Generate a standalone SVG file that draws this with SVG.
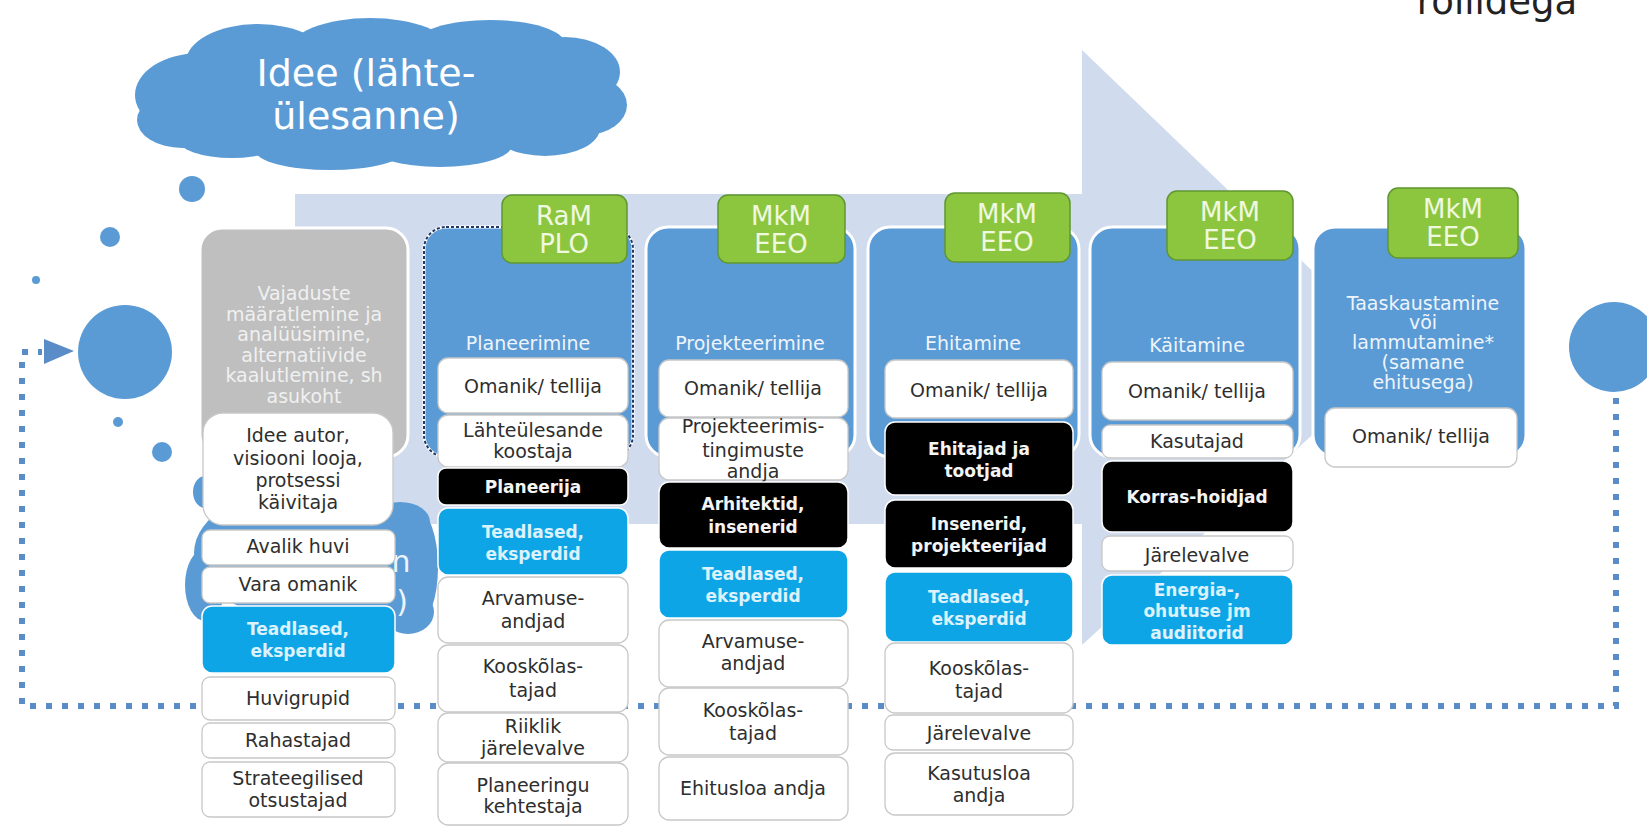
<svg xmlns="http://www.w3.org/2000/svg" width="1647" height="827" viewBox="0 0 1647 827">
<style>
text { font-family: "DejaVu Sans", Verdana, sans-serif; }
.col { fill:#5b9bd5; stroke:#fff; stroke-width:3; }
.grey { fill:#bfbfbf; stroke:#fff; stroke-width:3; }
.green { fill:#8cc63f; stroke:#5f9632; stroke-width:1.5; }
.gt { font-size:26px; fill:#f0f8e0; text-anchor:middle; }
.lbl { font-size:19px; fill:#eef4fb; text-anchor:middle; }
.glbl { font-size:19px; fill:#f0f0f0; text-anchor:middle; }
.wb { fill:#fff; stroke:#c8c8c8; stroke-width:1.3; }
.bb { fill:#000; stroke:#fff; stroke-width:1.5; }
.cb { fill:#0ea5e6; stroke:#fff; stroke-width:1.5; }
.wt { font-size:19px; fill:#2e2e2e; text-anchor:middle; }
.bt { font-size:17px; font-weight:bold; fill:#f4f4f4; text-anchor:middle; }
.ct { font-size:17px; font-weight:bold; fill:#dcf2fc; text-anchor:middle; }
.blob { fill:#5b9bd5; }
.conn { fill:none; stroke:#5a8dc8; stroke-width:6; stroke-dasharray:6 10; }
</style>
<rect width="1647" height="827" fill="#fff"/>

<g id="process-arrow">
  <polygon points="295,194 1082,194 1082,50 1400,355 1082,645 1082,524 295,524" fill="#d0dbee"/>
</g>

<g id="idea-cloud">
  <g class="blob">
    <ellipse cx="380" cy="95" rx="215" ry="60"/>
    <ellipse cx="200" cy="95" rx="65" ry="42"/>
    <ellipse cx="182" cy="120" rx="45" ry="28"/>
    <ellipse cx="258" cy="62" rx="72" ry="38"/>
    <ellipse cx="370" cy="50" rx="80" ry="32"/>
    <ellipse cx="490" cy="44" rx="75" ry="24"/>
    <ellipse cx="565" cy="72" rx="55" ry="35"/>
    <ellipse cx="585" cy="105" rx="42" ry="30"/>
    <ellipse cx="545" cy="128" rx="55" ry="28"/>
    <ellipse cx="440" cy="145" rx="72" ry="22"/>
    <ellipse cx="330" cy="150" rx="75" ry="20"/>
    <ellipse cx="232" cy="138" rx="55" ry="20"/>
  </g>
  <text x="366" y="86" font-size="38" fill="#fff" text-anchor="middle">Idee (lähte-</text>
  <text x="366" y="129" font-size="38" fill="#fff" text-anchor="middle">ülesanne)</text>
</g>

<g id="bubbles" class="blob">
  <circle cx="192" cy="189" r="13"/>
  <circle cx="110" cy="237" r="10"/>
  <circle cx="36" cy="280" r="4"/>
  <circle cx="118" cy="422" r="5"/>
  <circle cx="162" cy="452" r="10"/>
</g>

<g id="lower-cloud">
  <g class="blob">
    <ellipse cx="312" cy="553" rx="118" ry="68"/>
    <ellipse cx="205" cy="585" rx="20" ry="36"/>
    <ellipse cx="205" cy="492" rx="12" ry="16"/>
    <ellipse cx="418" cy="567" rx="20" ry="56"/>
    <ellipse cx="408" cy="612" rx="26" ry="22"/>
    <ellipse cx="400" cy="522" rx="30" ry="20"/>
  </g>
  <text x="401" y="572" font-size="30" fill="#eef4fb" text-anchor="middle">n</text>
  <text x="402" y="612" font-size="30" fill="#eef4fb" text-anchor="middle">)</text>
</g>

<g id="start-circle"><circle class="blob" cx="125" cy="352" r="47"/></g>
<g id="end-circle"><circle class="blob" cx="1614" cy="347" r="45"/></g>

<g id="connectors">
  <path class="conn" d="M1616,398 V706 H22 V352 H42"/>
  <polygon points="44,339 74,351 44,364" fill="#5a8dc8"/>
</g>

<g id="col1">
  <rect class="grey" x="200" y="228" width="208" height="229" rx="22"/>
  <text class="glbl" x="304" y="300">Vajaduste</text>
  <text class="glbl" x="304" y="320.5">määratlemine ja</text>
  <text class="glbl" x="304" y="341">analüüsimine,</text>
  <text class="glbl" x="304" y="361.5">alternatiivide</text>
  <text class="glbl" x="304" y="382">kaalutlemine, sh</text>
  <text class="glbl" x="304" y="402.5">asukoht</text>
  <rect class="wb" x="203" y="413" width="190" height="112" rx="20"/>
  <text class="wt" x="298" y="442">Idee autor,</text>
  <text class="wt" x="298" y="465">visiooni looja,</text>
  <text class="wt" x="298" y="487">protsessi</text>
  <text class="wt" x="298" y="509">käivitaja</text>
  <rect class="wb" x="202" y="530" width="193" height="35" rx="8"/>
  <text class="wt" x="298" y="553">Avalik huvi</text>
  <rect class="wb" x="202" y="567" width="193" height="36" rx="8"/>
  <text class="wt" x="298" y="591">Vara omanik</text>
  <rect class="cb" x="202" y="606" width="193" height="67" rx="10"/>
  <text class="ct" x="298" y="635">Teadlased,</text>
  <text class="ct" x="298" y="657">eksperdid</text>
  <rect class="wb" x="202" y="677" width="193" height="43" rx="8"/>
  <text class="wt" x="298" y="705">Huvigrupid</text>
  <rect class="wb" x="202" y="723" width="193" height="35" rx="8"/>
  <text class="wt" x="298" y="747">Rahastajad</text>
  <rect class="wb" x="202" y="762" width="193" height="55" rx="8"/>
  <text class="wt" x="298" y="785">Strateegilised</text>
  <text class="wt" x="298" y="807">otsustajad</text>
</g>

<g id="col2">
  <rect class="col" x="424" y="227" width="209" height="230" rx="22"/>
  <rect x="424" y="227" width="209" height="230" rx="22" fill="none" stroke="#1f3864" stroke-width="2" stroke-dasharray="3 2"/>
  <rect class="green" x="502" y="195" width="125" height="68" rx="10"/>
  <text class="gt" x="564" y="225">RaM</text>
  <text class="gt" x="564" y="253">PLO</text>
  <text class="lbl" x="528" y="350">Planeerimine</text>
  <rect class="wb" x="438" y="358" width="190" height="55" rx="10"/>
  <text class="wt" x="533" y="393">Omanik/ tellija</text>
  <rect class="wb" x="438" y="415" width="190" height="52" rx="10"/>
  <text class="wt" x="533" y="437">Lähteülesande</text>
  <text class="wt" x="533" y="458">koostaja</text>
  <rect class="bb" x="438" y="468" width="190" height="37" rx="8"/>
  <text class="bt" x="533" y="493">Planeerija</text>
  <rect class="cb" x="438" y="508" width="190" height="67" rx="10"/>
  <text class="ct" x="533" y="538">Teadlased,</text>
  <text class="ct" x="533" y="560">eksperdid</text>
  <rect class="wb" x="438" y="577" width="190" height="66" rx="10"/>
  <text class="wt" x="533" y="605">Arvamuse-</text>
  <text class="wt" x="533" y="628">andjad</text>
  <rect class="wb" x="438" y="645" width="190" height="67" rx="10"/>
  <text class="wt" x="533" y="673">Kooskõlas-</text>
  <text class="wt" x="533" y="697">tajad</text>
  <rect class="wb" x="438" y="713" width="190" height="49" rx="10"/>
  <text class="wt" x="533" y="733">Riiklik</text>
  <text class="wt" x="533" y="755">järelevalve</text>
  <rect class="wb" x="438" y="763" width="190" height="62" rx="10"/>
  <text class="wt" x="533" y="792">Planeeringu</text>
  <text class="wt" x="533" y="813">kehtestaja</text>
</g>

<g id="col3">
  <rect class="col" x="646" y="227" width="209" height="230" rx="22"/>
  <rect class="green" x="718" y="195" width="127" height="68" rx="10"/>
  <text class="gt" x="781" y="225">MkM</text>
  <text class="gt" x="781" y="253">EEO</text>
  <text class="lbl" x="750" y="350">Projekteerimine</text>
  <rect class="wb" x="659" y="360" width="189" height="57" rx="10"/>
  <text class="wt" x="753" y="395">Omanik/ tellija</text>
  <rect class="wb" x="659" y="418" width="189" height="62" rx="10"/>
  <text class="wt" x="753" y="433">Projekteerimis-</text>
  <text class="wt" x="753" y="457">tingimuste</text>
  <text class="wt" x="753" y="478">andja</text>
  <rect class="bb" x="659" y="482" width="189" height="66" rx="10"/>
  <text class="bt" x="753" y="510">Arhitektid,</text>
  <text class="bt" x="753" y="533">insenerid</text>
  <rect class="cb" x="659" y="550" width="189" height="68" rx="10"/>
  <text class="ct" x="753" y="580">Teadlased,</text>
  <text class="ct" x="753" y="602">eksperdid</text>
  <rect class="wb" x="659" y="620" width="189" height="67" rx="10"/>
  <text class="wt" x="753" y="648">Arvamuse-</text>
  <text class="wt" x="753" y="670">andjad</text>
  <rect class="wb" x="659" y="688" width="189" height="67" rx="10"/>
  <text class="wt" x="753" y="717">Kooskõlas-</text>
  <text class="wt" x="753" y="740">tajad</text>
  <rect class="wb" x="659" y="757" width="189" height="63" rx="10"/>
  <text class="wt" x="753" y="795">Ehitusloa andja</text>
</g>

<g id="col4">
  <rect class="col" x="868" y="227" width="211" height="230" rx="22"/>
  <rect class="green" x="945" y="193" width="125" height="69" rx="10"/>
  <text class="gt" x="1007" y="223">MkM</text>
  <text class="gt" x="1007" y="251">EEO</text>
  <text class="lbl" x="973" y="350">Ehitamine</text>
  <rect class="wb" x="885" y="360" width="188" height="58" rx="10"/>
  <text class="wt" x="979" y="397">Omanik/ tellija</text>
  <rect class="bb" x="885" y="422" width="188" height="73" rx="10"/>
  <text class="bt" x="979" y="455">Ehitajad ja</text>
  <text class="bt" x="979" y="477">tootjad</text>
  <rect class="bb" x="885" y="500" width="188" height="68" rx="10"/>
  <text class="bt" x="979" y="530">Insenerid,</text>
  <text class="bt" x="979" y="552">projekteerijad</text>
  <rect class="cb" x="885" y="572" width="188" height="70" rx="10"/>
  <text class="ct" x="979" y="603">Teadlased,</text>
  <text class="ct" x="979" y="625">eksperdid</text>
  <rect class="wb" x="885" y="643" width="188" height="70" rx="10"/>
  <text class="wt" x="979" y="675">Kooskõlas-</text>
  <text class="wt" x="979" y="698">tajad</text>
  <rect class="wb" x="885" y="715" width="188" height="35" rx="8"/>
  <text class="wt" x="979" y="740">Järelevalve</text>
  <rect class="wb" x="885" y="753" width="188" height="62" rx="10"/>
  <text class="wt" x="979" y="780">Kasutusloa</text>
  <text class="wt" x="979" y="802">andja</text>
</g>

<g id="col5">
  <rect class="col" x="1090" y="227" width="210" height="230" rx="22"/>
  <rect class="green" x="1167" y="191" width="126" height="69" rx="10"/>
  <text class="gt" x="1230" y="221">MkM</text>
  <text class="gt" x="1230" y="249">EEO</text>
  <text class="lbl" x="1197" y="352">Käitamine</text>
  <rect class="wb" x="1102" y="362" width="191" height="58" rx="10"/>
  <text class="wt" x="1197" y="398">Omanik/ tellija</text>
  <rect class="wb" x="1102" y="425" width="191" height="33" rx="8"/>
  <text class="wt" x="1197" y="448">Kasutajad</text>
  <rect class="bb" x="1102" y="461" width="191" height="71" rx="10"/>
  <text class="bt" x="1197" y="503">Korras-hoidjad</text>
  <rect class="wb" x="1102" y="536" width="191" height="35" rx="8"/>
  <text class="wt" x="1197" y="562">Järelevalve</text>
  <rect class="cb" x="1102" y="575" width="191" height="70" rx="10"/>
  <text class="ct" x="1197" y="596">Energia-,</text>
  <text class="ct" x="1197" y="617">ohutuse jm</text>
  <text class="ct" x="1197" y="639">audiitorid</text>
</g>

<g id="col6">
  <rect class="col" x="1313" y="227" width="213" height="230" rx="22"/>
  <rect class="green" x="1388" y="188" width="130" height="70" rx="10"/>
  <text class="gt" x="1453" y="218">MkM</text>
  <text class="gt" x="1453" y="246">EEO</text>
  <text class="lbl" x="1423" y="310">Taaskaustamine</text>
  <text class="lbl" x="1423" y="329">või</text>
  <text class="lbl" x="1423" y="349">lammutamine*</text>
  <text class="lbl" x="1423" y="369">(samane</text>
  <text class="lbl" x="1423" y="389">ehitusega)</text>
  <rect class="wb" x="1325" y="408" width="192" height="59" rx="10"/>
  <text class="wt" x="1421" y="443">Omanik/ tellija</text>
</g>

<g id="corner-title">
  <text x="1497" y="14" font-size="37" fill="#222" text-anchor="middle">rollidega</text>
</g>
</svg>
